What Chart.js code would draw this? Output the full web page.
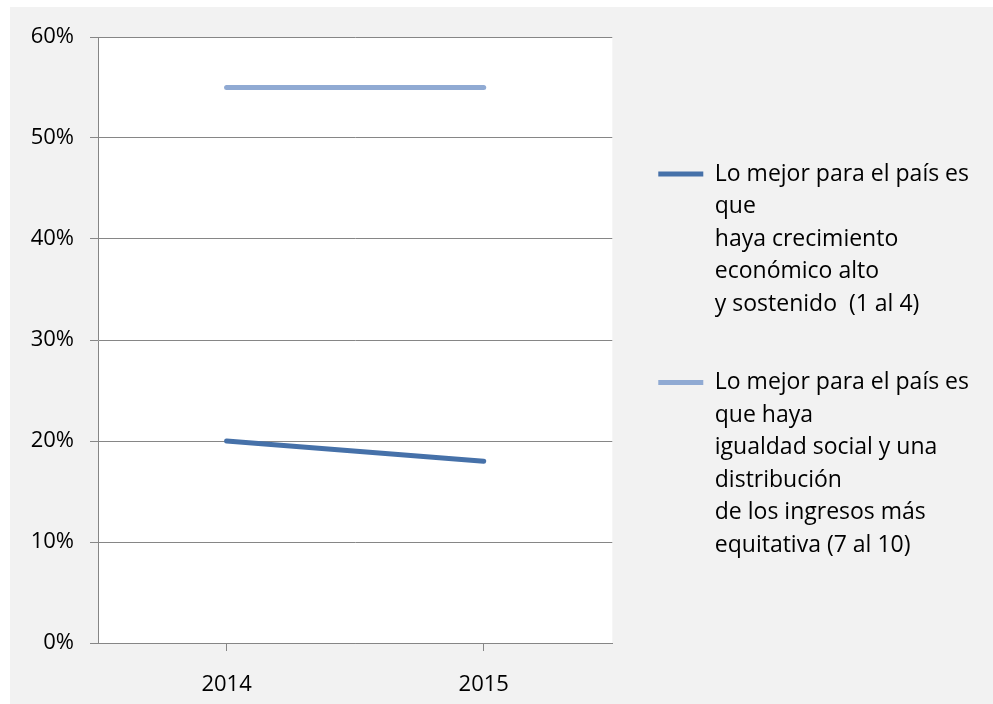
<!DOCTYPE html>
<html>
<head>
<meta charset="utf-8">
<script src="https://cdn.jsdelivr.net/npm/chart.js@4.4.0/dist/chart.umd.min.js"></script>
<style>
  html, body { margin: 0; padding: 0; background: #ffffff; overflow: hidden; }
  #panel { position: absolute; left: 10px; top: 7px; width: 983px; height: 697px; background: #f2f2f2; }
</style>
</head>
<body>
<div id="panel"><canvas id="myChart"></canvas></div>
<script>
// data
var years = ['2014', '2015']
var crecimiento = [0.20, 0.18]
var igualdad = [0.55, 0.55]
var yTicks = [0, 0.1, 0.2, 0.3, 0.4, 0.5, 0.6]

var labelCrecimiento = ['Lo mejor para el país es', 'que', 'haya crecimiento', 'económico alto', 'y sostenido  (1 al 4)']
var labelIgualdad = ['Lo mejor para el país es', 'que haya', 'igualdad social y una', 'distribución', 'de los ingresos más', 'equitativa (7 al 10)']

var gridGray = '#868686'
var font = { family: '"Open Sans", sans-serif', size: 22 }

// white plot area on the grey panel
var plotBackground = {
    id: 'plotBackground',
    beforeDraw(chart) {
        var a = chart.chartArea
        var ctx = chart.ctx
        ctx.save()
        ctx.fillStyle = '#ffffff'
        ctx.fillRect(a.left, a.top, a.right - a.left, a.bottom - a.top)
        ctx.restore()
    }
}

var ctx = document.getElementById('myChart').getContext('2d')
var myChart = new Chart(ctx, {
    type: 'line',
    data: {
        labels: years,
        datasets: [{
            label: labelCrecimiento,
            data: crecimiento,
            borderColor: '#4671a9',
            backgroundColor: '#4671a9',
            borderWidth: 5,
            borderCapStyle: 'round',
            pointRadius: 0
        }, {
            label: labelIgualdad,
            data: igualdad,
            borderColor: '#90aad3',
            backgroundColor: '#90aad3',
            borderWidth: 5,
            borderCapStyle: 'round',
            pointRadius: 0
        }]
    },
    options: {
        responsive: true,
        maintainAspectRatio: false,
        animation: false,
        layout: { padding: { top: 30, right: 14, bottom: 0, left: 0 } },
        plugins: {
            tooltip: { enabled: false },
            legend: {
                position: 'right',
                align: 'start',
                maxWidth: 420,
                // empty title only pushes the items down
                title: { display: true, text: '', font: { size: 10, lineHeight: 1 }, padding: { top: 69.5, bottom: 0 } },
                labels: {
                    font: { family: font.family, size: 23, lineHeight: 1.413 },
                    color: '#000000',
                    boxWidth: 45,
                    boxHeight: 0,
                    padding: 46
                }
            }
        },
        scales: {
            x: {
                offset: true,
                grid: { drawOnChartArea: false, drawTicks: true, tickLength: 8, color: gridGray },
                border: { color: gridGray },
                ticks: { font: font, color: '#000000', padding: 21 },
                afterFit(scale) { scale.height = 61 }
            },
            y: {
                min: 0,
                max: 0.6,
                afterBuildTicks(scale) { scale.ticks = yTicks.map(v => ({ value: v })) },
                grid: { color: gridGray, tickLength: 8 },
                border: { color: gridGray },
                ticks: {
                    font: font,
                    color: '#000000',
                    padding: 16,
                    callback: v => Math.round(v * 100) + '%'
                },
                afterFit(scale) { scale.width = 88 }
            }
        }
    },
    plugins: [plotBackground]
})
</script>
</body>
</html>
